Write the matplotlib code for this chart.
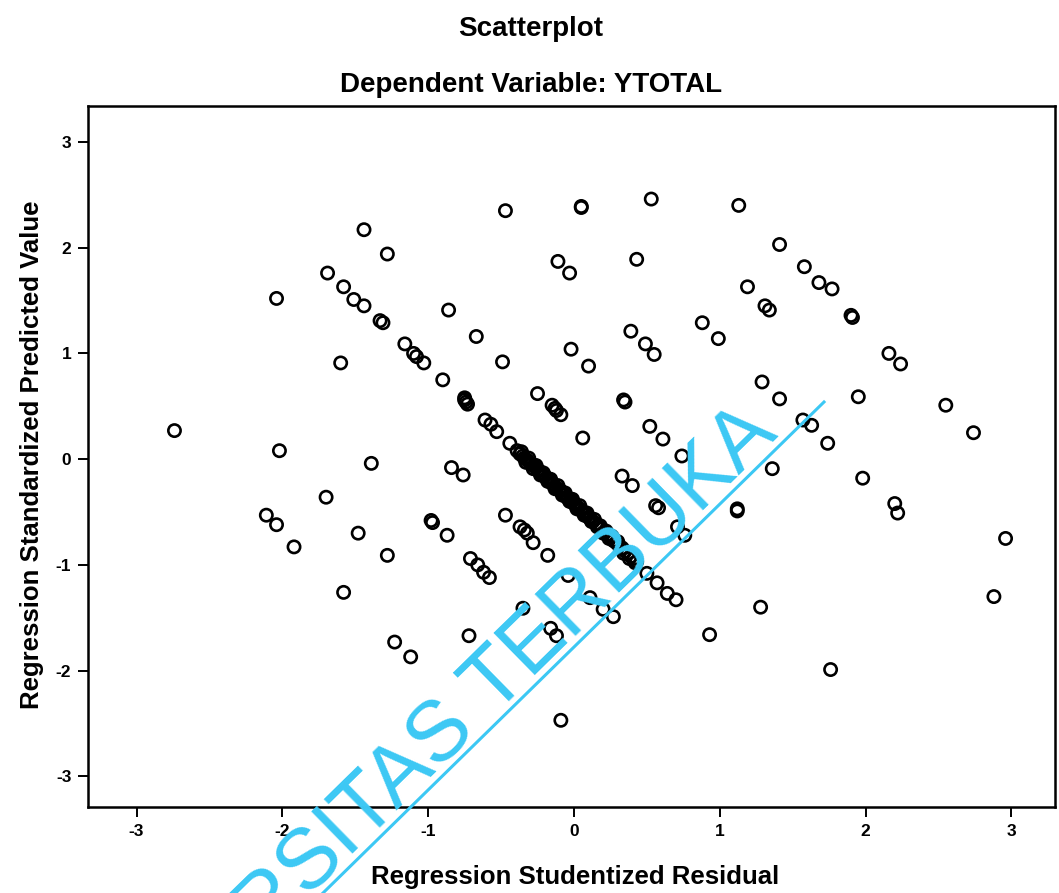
import matplotlib
matplotlib.use("Agg")
import matplotlib.pyplot as plt
from matplotlib.lines import Line2D

plt.rcParams['axes.unicode_minus'] = False
plt.rcParams['font.family'] = ['Liberation Sans', 'DejaVu Sans']

# Scattered observations (studentized residual, standardized predicted value)
resid_x = [
    -2.74, -2.04, -2.02, -2.11, -2.04, -1.92, -1.70, -1.58, -1.60, -1.69,
    -1.58, -1.51, -1.44, -1.44, -1.28, -1.33, -1.31, -1.48, -1.39, -1.28,
    -1.23, -1.12, -1.16, -1.10, -1.08, -1.03, -0.90, -0.98, -0.97, -0.87,
    -0.86, -0.84, -0.76, -0.75, -0.75, -0.74, -0.73, -0.72, -0.67, -0.71,
    -0.66, -0.62, -0.58, -0.61, -0.57, -0.53, -0.47, -0.49, -0.47, -0.44,
    -0.35, -0.37, -0.34, -0.32, -0.28, -0.25, -0.15, -0.13, -0.12, -0.09,
    -0.18, -0.11, -0.03, -0.16, -0.12, -0.09, -0.04, -0.02, 0.05, 0.05,
    0.10, 0.06, 0.11, 0.20, 0.27, 0.53, 0.43, 0.34, 0.35, 0.33,
    0.40, 0.39, 0.49, 0.55, 0.52, 0.61, 0.74, 0.50, 0.57, 0.64,
    0.70, 0.56, 0.58, 0.71, 0.76, 0.88, 0.99, 0.93, 1.13, 1.19,
    1.41, 1.58, 1.31, 1.34, 1.68, 1.77, 1.90, 1.91, 2.16, 2.24,
    1.29, 1.41, 1.57, 1.63, 1.95, 1.74, 2.55, 2.74, 1.36, 1.98,
    2.20, 2.22, 1.12, 1.12, 2.96, 2.88, 1.28, 1.76, 0.34, 0.38,
    0.42,
]
pred_y = [
    0.27, 1.52, 0.08, -0.53, -0.62, -0.83, -0.36, -1.26, 0.91, 1.76,
    1.63, 1.51, 1.45, 2.17, 1.94, 1.31, 1.29, -0.70, -0.04, -0.91,
    -1.73, -1.87, 1.09, 1.00, 0.97, 0.91, 0.75, -0.58, -0.60, -0.72,
    1.41, -0.08, -0.15, 0.58, 0.56, 0.54, 0.52, -1.67, 1.16, -0.94,
    -1.00, -1.07, -1.12, 0.37, 0.33, 0.26, 2.35, 0.92, -0.53, 0.15,
    -1.41, -0.64, -0.67, -0.70, -0.79, 0.62, 0.51, 0.48, 0.46, 0.42,
    -0.91, 1.87, 1.76, -1.60, -1.67, -2.47, -1.10, 1.04, 2.38, 2.39,
    0.88, 0.20, -1.31, -1.42, -1.49, 2.46, 1.89, 0.56, 0.54, -0.16,
    -0.25, 1.21, 1.09, 0.99, 0.31, 0.19, 0.03, -1.08, -1.17, -1.27,
    -1.33, -0.44, -0.46, -0.64, -0.72, 1.29, 1.14, -1.66, 2.40, 1.63,
    2.03, 1.82, 1.45, 1.41, 1.67, 1.61, 1.36, 1.34, 1.00, 0.90,
    0.73, 0.57, 0.37, 0.32, 0.59, 0.15, 0.51, 0.25, -0.09, -0.18,
    -0.42, -0.51, -0.47, -0.49, -0.75, -1.30, -1.40, -1.99, -0.89, -0.94,
    -0.98,
]

# Densely overlapping observations along the diagonal band
band_x = [
    -0.39, -0.37, -0.35, -0.34, -0.32, -0.30, -0.29, -0.27, -0.25, -0.24,
    -0.22, -0.20, -0.19, -0.17, -0.15, -0.14, -0.12, -0.10, -0.09, -0.07,
    -0.05, -0.04, -0.02, 0.00, 0.01, 0.03, 0.05, 0.06, 0.08, 0.10,
    0.11, 0.13, 0.15, 0.17, 0.19, 0.21, 0.23, 0.25, 0.27, 0.29,
    0.31, 0.33, 0.35, 0.37, 0.39, 0.41, 0.43,
    -0.36, -0.31, -0.26, -0.21, -0.16, -0.11, -0.06, -0.01, 0.04, 0.09,
    0.14, 0.18, 0.22, 0.26, 0.30,
    -0.33, -0.28, -0.23, -0.18, -0.13, -0.08, -0.03, 0.02, 0.07, 0.12,
    0.16, 0.20, 0.24,
]
band_y = [
    0.08, 0.05, 0.03, 0.01, -0.01, -0.04, -0.05, -0.07, -0.10, -0.11,
    -0.14, -0.16, -0.18, -0.20, -0.23, -0.24, -0.27, -0.29, -0.30, -0.33,
    -0.36, -0.37, -0.39, -0.42, -0.43, -0.46, -0.48, -0.50, -0.52, -0.55,
    -0.56, -0.59, -0.61, -0.64, -0.66, -0.69, -0.71, -0.74, -0.77, -0.79,
    -0.82, -0.84, -0.87, -0.89, -0.92, -0.94, -0.97,
    0.07, 0.01, -0.06, -0.13, -0.19, -0.25, -0.32, -0.38, -0.44, -0.51,
    -0.57, -0.63, -0.68, -0.73, -0.78,
    -0.03, -0.09, -0.15, -0.21, -0.28, -0.34, -0.40, -0.47, -0.53, -0.59,
    -0.64, -0.70, -0.75,
]

x_ticks = [-3, -2, -1, 0, 1, 2, 3]
y_ticks = [-3, -2, -1, 0, 1, 2, 3]

fig = plt.figure(figsize=(10.59, 8.93), dpi=100)
ax = fig.add_axes([88/1059, 1-807/893, (1055-88)/1059, (807-106)/893])

mk = dict(s=78, facecolors='none', edgecolors='black', linewidths=1.9, zorder=3)
ax.scatter(resid_x, pred_y, **mk)
ax.scatter(band_x, band_y, **mk)

ax.set_xlim(-3.333, 3.299)
ax.set_ylim(-3.29, 3.34)
ax.set_xticks(x_ticks)
ax.set_yticks(y_ticks)
ax.set_xticklabels([str(t) for t in x_ticks])
ax.set_yticklabels([str(t) for t in y_ticks])
ax.tick_params(direction='out', length=7, width=1.4, labelsize=12.5, pad=5)
for lab in ax.get_xticklabels() + ax.get_yticklabels():
    lab.set_fontweight('bold')
for sp in ax.spines.values():
    sp.set_linewidth(1.8)

fig.text(531/1059, 1-29/893, 'Scatterplot', ha='center', va='center',
         fontsize=20, fontweight='bold')
fig.text(531/1059, 1-85/893, 'Dependent Variable: YTOTAL', ha='center',
         va='center', fontsize=20, fontweight='bold')
fig.text(575/1059, 1-877/893, 'Regression Studentized Residual', ha='center',
         va='center', fontsize=18.5, fontweight='bold')
fig.text(32/1059, 1-455/893, 'Regression Standardized Predicted Value',
         ha='center', va='center', rotation=90, fontsize=18.5, fontweight='bold')

# watermark
wm_color = '#3cc8f4'
fig.text(780/1059, 1-436/893, 'RSITAS TERBUKA', ha='right', va='baseline',
         rotation=44.4, rotation_mode='anchor', fontsize=61, color=wm_color,
         zorder=10)
fig.add_artist(Line2D([323/1059, 824/1059], [0, 1-402/893], color=wm_color,
                      linewidth=2.2, zorder=10))

fig.savefig('out.png', dpi=100)
